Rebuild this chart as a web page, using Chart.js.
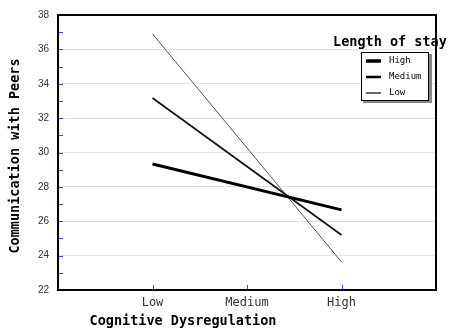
<!DOCTYPE html>
<html>
<head>
<meta charset="utf-8">
<script src="https://cdn.jsdelivr.net/npm/chart.js@4/dist/chart.umd.min.js"></script>
<style>
  html, body { margin: 0; padding: 0; background: #fff; }
  #wrap { width: 450px; height: 329px; }
</style>
</head>
<body>
<div id="wrap"><canvas id="chart" width="450" height="329"></canvas></div>
<script>
// categories on the x axis (positions 1..3 on a 0..4 linear scale)
const categories = ['Low', 'Medium', 'High'];
const catPos = [1, 3];

// series: value at Low and at High cognitive dysregulation
const seriesNames = ['High', 'Medium', 'Low'];
const highStay = [29.33, 26.66];
const mediumStay = [33.17, 25.2];
const lowStay = [36.9, 23.63];

const yTicks = [22, 24, 26, 28, 30, 32, 34, 36, 38];

const mono = '"DejaVu Sans Mono", monospace';

function pts(vals) {
  return vals.map((v, i) => ({ x: catPos[i], y: v }));
}

const decor = {
  id: 'decor',
  afterDraw(chart) {
    const c = chart.ctx;
    const a = chart.chartArea;
    const xs = chart.scales.x, ys = chart.scales.y;
    c.save();
    // frame
    c.strokeStyle = '#000';
    c.lineWidth = 2;
    c.strokeRect(a.left, a.top, a.right - a.left, a.bottom - a.top);
    // blue minor ticks
    c.strokeStyle = '#3344ff';
    c.lineWidth = 1;
    for (let v = 23; v < 38; v++) {
      const y = Math.round(ys.getPixelForValue(v)) + 0.5;
      c.beginPath(); c.moveTo(a.left + 1, y); c.lineTo(a.left + 5, y); c.stroke();
    }
    for (let i = 1; i <= 3; i++) {
      const x = Math.round(xs.getPixelForValue(i)) + 0.5;
      c.beginPath(); c.moveTo(x, a.bottom - 1); c.lineTo(x, a.bottom - 5); c.stroke();
    }

    // axis titles
    c.fillStyle = '#000';
    c.font = 'bold 13.5px ' + mono;
    c.textAlign = 'center';
    c.textBaseline = 'alphabetic';
    c.fillText('Cognitive Dysregulation', 183, 325);
    c.save();
    c.translate(19, 156);
    c.rotate(-Math.PI / 2);
    c.fillText('Communication with Peers', 0, 0);
    c.restore();

    // legend
    c.textAlign = 'left';
    c.fillText('Length of stay', 333, 46);
    c.fillStyle = '#888';
    c.fillRect(363, 54, 69, 49);
    c.fillStyle = '#fff';
    c.fillRect(361, 52, 68, 49);
    c.strokeStyle = '#000';
    c.lineWidth = 1;
    c.strokeRect(361.5, 52.5, 67, 48);
    const widths = [3.5, 2.5, 1.2];
    c.font = '9px ' + mono;
    c.textBaseline = 'middle';
    seriesNames.forEach((n, i) => {
      const y = 61 + i * 16;
      c.lineWidth = widths[i];
      c.beginPath(); c.moveTo(366, y); c.lineTo(381, y); c.stroke();
      c.fillStyle = '#000';
      c.fillText(n, 389, y);
    });
    c.restore();
  }
};

new Chart(document.getElementById('chart'), {
  type: 'line',
  data: {
    datasets: [
      { label: seriesNames[0], data: pts(highStay), borderColor: '#000', borderWidth: 3, pointRadius: 0 },
      { label: seriesNames[1], data: pts(mediumStay), borderColor: '#111', borderWidth: 1.7, pointRadius: 0 },
      { label: seriesNames[2], data: pts(lowStay), borderColor: '#555', borderWidth: 1, pointRadius: 0 }
    ]
  },
  options: {
    responsive: false,
    animation: false,
    layout: { padding: { top: 15, right: 14, left: 0, bottom: 0 } },
    plugins: { legend: { display: false }, tooltip: { enabled: false } },
    scales: {
      x: {
        type: 'linear', min: 0, max: 4,
        afterFit(s) { s.height = 39; },
        grid: { display: false, drawTicks: false },
        border: { display: false },
        afterBuildTicks(s) { s.ticks = [1, 2, 3].map(v => ({ value: v })); },
        ticks: {
          padding: 6,
          color: '#333',
          font: { family: mono, size: 12 },
          callback: v => categories[v - 1] || ''
        }
      },
      y: {
        min: 22, max: 38,
        afterFit(s) { s.width = 58; },
        afterBuildTicks(s) { s.ticks = yTicks.map(v => ({ value: v })); },
        grid: { color: '#e2e2e2', drawTicks: false },
        border: { display: false },
        ticks: {
          padding: 9,
          color: '#333',
          font: { family: '"Liberation Sans", sans-serif', size: 10 }
        }
      }
    }
  },
  plugins: [decor]
});
</script>
</body>
</html>
